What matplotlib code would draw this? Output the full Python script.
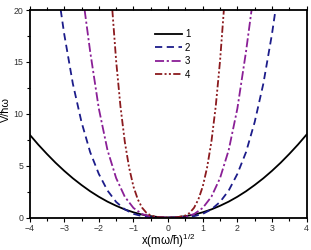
import matplotlib
matplotlib.use("Agg")
import matplotlib.pyplot as plt
from matplotlib.ticker import MultipleLocator

plt.rcParams['font.family'] = ['Liberation Sans', 'DejaVu Sans']
plt.rcParams['mathtext.fontset'] = 'custom'
plt.rcParams['mathtext.rm'] = 'Liberation Sans'
plt.rcParams['mathtext.it'] = 'Liberation Sans:italic'

# ---- data ----
x1 = [-4.0, -3.75, -3.5, -3.25, -3.0, -2.75, -2.5, -2.25, -2.0, -1.75, -1.5, -1.25, -1.0, -0.75, -0.5, -0.25, 0.0,
      0.25, 0.5, 0.75, 1.0, 1.25, 1.5, 1.75, 2.0, 2.25, 2.5, 2.75, 3.0, 3.25, 3.5, 3.75, 4.0]
v1 = [8.0, 7.03, 6.13, 5.28, 4.5, 3.78, 3.13, 2.53, 2.0, 1.53, 1.13, 0.78, 0.5, 0.28, 0.13, 0.03, 0.0,
      0.03, 0.13, 0.28, 0.5, 0.78, 1.13, 1.53, 2.0, 2.53, 3.13, 3.78, 4.5, 5.28, 6.13, 7.03, 8.0]

x2 = [-3.1, -3.0, -2.75, -2.5, -2.25, -2.0, -1.75, -1.5, -1.25, -1.0, -0.75, -0.5, -0.25, 0.0,
      0.25, 0.5, 0.75, 1.0, 1.25, 1.5, 1.75, 2.0, 2.25, 2.5, 2.75, 3.0, 3.1]
v2 = [20.0, 17.7, 12.9, 9.2, 6.3, 4.2, 2.6, 1.5, 0.78, 0.35, 0.13, 0.03, 0.0, 0.0,
      0.0, 0.03, 0.13, 0.35, 0.78, 1.5, 2.6, 4.2, 6.3, 9.2, 12.9, 17.7, 20.0]

x3 = [-2.41, -2.25, -2.0, -1.75, -1.5, -1.25, -1.0, -0.75, -0.5, -0.25, 0.0,
      0.25, 0.5, 0.75, 1.0, 1.25, 1.5, 1.75, 2.0, 2.25, 2.41]
v3 = [20.0, 16.0, 10.5, 6.5, 3.8, 2.0, 0.92, 0.33, 0.08, 0.01, 0.0,
      0.01, 0.08, 0.33, 0.92, 2.0, 3.8, 6.5, 10.5, 16.0, 20.0]

x4 = [-1.61, -1.5, -1.375, -1.25, -1.125, -1.0, -0.875, -0.75, -0.625, -0.5, -0.25, 0.0,
      0.25, 0.5, 0.625, 0.75, 0.875, 1.0, 1.125, 1.25, 1.375, 1.5, 1.61]
v4 = [20.0, 15.1, 10.7, 7.3, 4.8, 2.98, 1.75, 0.94, 0.45, 0.19, 0.01, 0.0,
      0.01, 0.19, 0.45, 0.94, 1.75, 2.98, 4.8, 7.3, 10.7, 15.1, 20.0]

labels = ['1', '2', '3', '4']
colors = ['black', '#1c1c8a', '#8a1f96', '#8b1a1e']

fig = plt.figure(figsize=(3.11, 2.5), dpi=100)
ax = fig.add_axes([0.095, 0.13, 0.891, 0.83])

ax.plot(x1, v1, color=colors[0], lw=1.3, ls='-', label=labels[0])
ax.plot(x2, v2, color=colors[1], lw=1.3, ls=(0, (4, 2.5)), label=labels[1])
ax.plot(x3, v3, color=colors[2], lw=1.3, ls=(0, (5, 1.5, 1.2, 1.5)), label=labels[2])
ax.plot(x4, v4, color=colors[3], lw=1.3, ls=(0, (4, 1.3, 1.1, 1.3, 1.1, 1.3)), label=labels[3])

ax.set_xlim(-4, 4)
ax.set_ylim(0, 20)
ax.xaxis.set_major_locator(MultipleLocator(1))
ax.xaxis.set_minor_locator(MultipleLocator(0.5))
ax.yaxis.set_major_locator(MultipleLocator(5))
ax.yaxis.set_minor_locator(MultipleLocator(2.5))
ax.tick_params(which='both', direction='out', top=True, right=False,
               labelsize=6.3, labelcolor='#333333', width=0.8, pad=1.5)
ax.tick_params(which='major', length=3)
ax.tick_params(which='minor', length=2)
for s in ax.spines.values():
    s.set_linewidth(1.3)

ax.set_xlabel('x(mω/ħ)$^{1/2}$', fontsize=8.3)
ax.xaxis.set_label_coords(0.5, -0.113, transform=ax.transAxes)
ax.xaxis.label.set_va('center')
ax.set_ylabel('V/ħω', fontsize=7.8)
ax.yaxis.set_label_coords(-0.085, 0.52, transform=ax.transAxes)
ax.yaxis.label.set_va('center')

ax.legend(loc='upper left', bbox_to_anchor=(0.44, 0.925), frameon=False, fontsize=7,
          handlelength=2.7, handletextpad=0.35, labelspacing=0.35, borderaxespad=0)

fig.savefig('out.png', dpi=100)
